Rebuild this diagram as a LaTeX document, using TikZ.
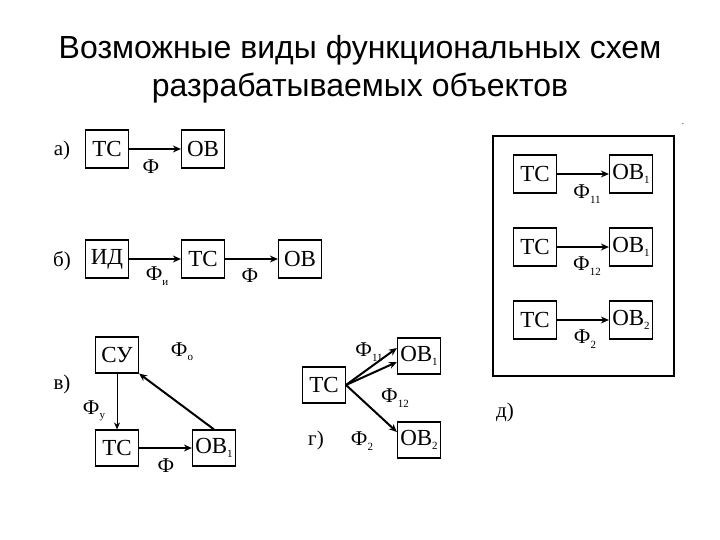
\documentclass[tikz,border=0pt]{standalone}
\usepackage{fontspec}
\setmainfont{Liberation Serif}
\newfontfamily\titlefont{Liberation Sans}
\usetikzlibrary{arrows.meta}
\newcommand\lowidx[1]{\raisebox{-0.45ex}{\fontsize{11}{11}\selectfont #1}}
\begin{document}
\begin{tikzpicture}[x=1pt,y=-1pt,
  blk/.style={draw,line width=1.2pt,minimum width=43pt,minimum height=38pt,inner sep=0pt,font=\fontsize{23}{23}\selectfont},
  thk/.style={line width=2pt,-{Stealth[length=8pt,width=7pt]}},
  thn/.style={line width=0.9pt,-{Stealth[length=7pt,width=6pt]}},
  lbl/.style={font=\fontsize{21}{21}\selectfont,inner sep=0pt}]
\useasboundingbox (0,0) rectangle (720,540);
\node[font=\titlefont\fontsize{32}{32}\selectfont] (t1) at (360,50) {Возможные виды функциональных схем};
\node[font=\titlefont\fontsize{32}{32}\selectfont] (t2) at (360,88) {разрабатываемых объектов};
% a
\node[lbl] (la) at (62,150) {а)};
\node[blk] (a1) at (107,149) {ТС};
\node[blk] (a2) at (203,149) {ОВ};
\draw[thk] (a1) -- (a2);
\node[lbl] (fa) at (151,167) {Ф};
% b
\node[lbl] (lb) at (62,261) {б)};
\node[blk] (b1) at (107,259) {ИД};
\node[blk] (b2) at (203,259) {ТС};
\node[blk] (b3) at (300,259) {ОВ};
\draw[thk] (b1) -- (b2);
\draw[thk] (b2) -- (b3);
\node[lbl] (fb1) at (157,276) {Ф\lowidx{и}};
\node[lbl] (fb2) at (250,276) {Ф};
% v
\node[lbl] (lv) at (62,384) {в)};
\node[blk,minimum height=36pt] (v1) at (117,355) {СУ};
\node[blk,minimum height=36pt] (v2) at (117,448) {ТС};
\node[blk,minimum height=36pt] (v3) at (214,448) {ОВ\lowidx{1}};
\draw[thn] (v1) -- (v2);
\draw[thk] (v2) -- (v3);
\draw[thk] (v3.north) -- (v1.south east);
\node[lbl] (fv1) at (94,411) {Ф\lowidx{у}};
\node[lbl] (fv2) at (182,352) {Ф\lowidx{о}};
\node[lbl] (fv3) at (166,466) {Ф};
% g
\node[blk,minimum height=36pt] (g1) at (324,385) {ТС};
\node[blk,minimum height=36pt] (g2) at (419,356) {ОВ\lowidx{1}};
\node[blk,minimum height=36pt] (g3) at (419,440) {ОВ\lowidx{2}};
\coordinate (gs) at (346,385);
\draw[thk] (gs) -- ([yshift=-6pt]g2.west);
\draw[thk] (gs) -- ([yshift=8pt]g2.west);
\draw[thk] (gs) -- ([yshift=8pt]g3.west);
\node[lbl] (fg1) at (369,352) {Ф\lowidx{11}};
\node[lbl] (fg2) at (395,398) {Ф\lowidx{12}};
\node[lbl] (fg3) at (362,441) {Ф\lowidx{2}};
\node[lbl] (lg) at (316,440) {г)};
% d
\node[draw,line width=1.2pt,minimum width=181pt,minimum height=240pt] (frame) at (583.5,256) {};
\node[blk] (d1) at (535,174) {ТС};
\node[blk] (d2) at (631,174) {ОВ\lowidx{1}};
\node[blk] (d3) at (535,247) {ТС};
\node[blk] (d4) at (631,247) {ОВ\lowidx{1}};
\node[blk] (d5) at (535,320) {ТС};
\node[blk] (d6) at (631,320) {ОВ\lowidx{2}};
\draw[thk] (d1) -- (d2);
\draw[thk] (d3) -- (d4);
\draw[thk] (d5) -- (d6);
\node[lbl] (fd1) at (587,194) {Ф\lowidx{11}};
\node[lbl] (fd2) at (587,266) {Ф\lowidx{12}};
\node[lbl] (fd3) at (585,339) {Ф\lowidx{2}};
\node[lbl] (ld) at (505,412) {д)};
\node[inner sep=0pt,font=\small] (dot) at (683,124) {.};
\end{tikzpicture}
\end{document}
